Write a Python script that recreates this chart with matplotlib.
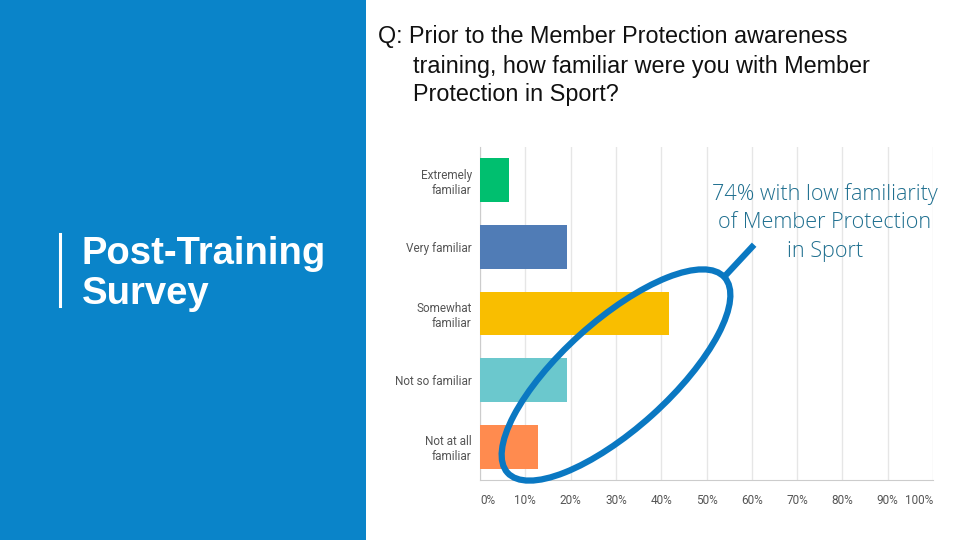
import numpy as np
import matplotlib.pyplot as plt
from matplotlib.patches import Ellipse, Rectangle
from matplotlib.lines import Line2D

categories = ["Extremely\nfamiliar", "Very familiar", "Somewhat\nfamiliar",
              "Not so familiar", "Not at all\nfamiliar"]
percents = [6.3, 19.1, 41.8, 19.1, 12.8]
bar_colors = ["#00BF6F", "#507CB6", "#F9BE00", "#6BC8CD", "#FF8B4F"]
xticks = [0, 10, 20, 30, 40, 50, 60, 70, 80, 90, 100]
xtick_labels = [f"{v}%" for v in xticks]

W, H = 960, 540
fig = plt.figure(figsize=(W / 100, H / 100), dpi=100)
fig.patch.set_facecolor("white")

# blue side panel
fig.add_artist(Rectangle((0, 0), 366 / W, 1, transform=fig.transFigure,
                         facecolor="#0A84C9", edgecolor="none", zorder=0))
fig.add_artist(Line2D([60 / W, 60 / W], [1 - 234 / H, 1 - 306 / H],
                      transform=fig.transFigure, color="white", lw=2.2))
fig.text(82 / W, 1 - 254 / H, "Post-Training", color="white", fontsize=27.5,
         fontweight="bold", family="Liberation Sans", va="center", ha="left")
fig.text(82 / W, 1 - 294 / H, "Survey", color="white", fontsize=27.5,
         fontweight="bold", family="Liberation Sans", va="center", ha="left")

# question
q_lines = [("Q: Prior to the Member Protection awareness", 378, 37),
           ("training, how familiar were you with Member", 413, 66),
           ("Protection in Sport?", 413, 95)]
for txt, x, y in q_lines:
    fig.text(x / W, 1 - y / H, txt, fontsize=16.8, family="Liberation Sans",
             color="#111111", va="center", ha="left")

# chart
ax = fig.add_axes([480 / W, 1 - 480 / H, (933 - 480) / W, (480 - 147) / H])
y = np.arange(len(categories))
ax.barh(y, percents, height=0.66, color=bar_colors, zorder=3)
ax.set_ylim(len(categories) - 0.5, -0.5)
ax.set_xlim(0, 100)
ax.set_xticks(xticks)
ax.set_xticklabels(xtick_labels)
ax.set_yticks(y)
ax.set_yticklabels(categories)
ax.xaxis.grid(True, color="#e6e6e6", lw=1, zorder=0)
ax.tick_params(length=0, labelsize=8.5, labelcolor="#555555")
ax.tick_params(axis="x", pad=10)
ax.tick_params(axis="y", pad=6)
for lab in ax.get_xticklabels() + ax.get_yticklabels():
    lab.set_family("Roboto")
xl = ax.get_xticklabels()
xl[0].set_ha("left")
xl[-1].set_ha("right")
for s in ["top", "right"]:
    ax.spines[s].set_visible(False)
ax.spines["left"].set_color("#cccccc")
ax.spines["bottom"].set_color("#cccccc")

# annotation: ellipse + pointer (pixel positions)
ell = Ellipse((616, H - 375), width=292, height=108, angle=42,
              transform=None, fill=False, edgecolor="#0A78C2", lw=4.5, zorder=10)
fig.add_artist(ell)
fig.add_artist(Line2D([725, 752], [H - 276, H - 247], transform=None,
                      color="#0A78C2", lw=4.5, zorder=10))
for txt, yy in [("74% with low familiarity", 194), ("of Member Protection", 222),
                ("in Sport", 251)]:
    fig.text(825 / W, 1 - yy / H, txt, fontsize=15.6, family="Open Sans",
             fontweight="light", color="#1F6F8F", ha="center", va="center")

fig.savefig("out.png", dpi=100)
